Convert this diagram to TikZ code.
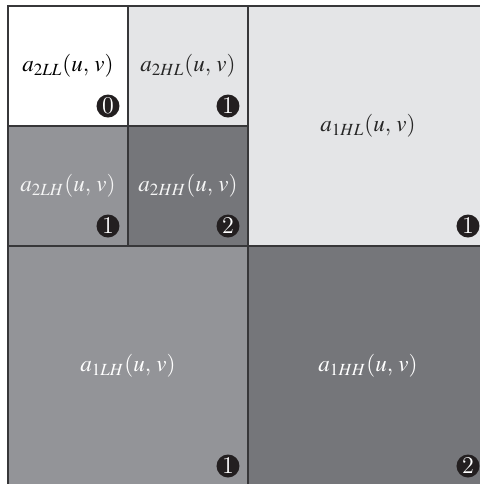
\documentclass[tikz,border=0pt]{standalone}
\usepackage{mathptmx}
\usepackage{xcolor}
\definecolor{bandlow}{RGB}{255,255,255}
\definecolor{bandlite}{RGB}{228,229,231}
\definecolor{bandmid}{RGB}{147,148,152}
\definecolor{banddark}{RGB}{117,118,122}
\definecolor{rulegray}{RGB}{55,55,57}
\definecolor{badgeblack}{RGB}{35,31,32}
\usetikzlibrary{positioning,calc}
\tikzset{
  cell/.style={draw=rulegray,line width=0.6pt,inner sep=0pt,outer sep=0pt,font=\fontsize{11.5}{14}\selectfont},
  small/.style={cell,minimum width=60pt,minimum height=60pt},
  big/.style={cell,minimum width=120pt,minimum height=120pt},
  badge/.style={circle,fill=badgeblack,text=white,inner sep=0pt,minimum size=11.5pt,font=\large},
}
\begin{document}
\begin{tikzpicture}[x=0.5pt,y=-0.5pt]
\useasboundingbox (0,0) rectangle (480,484);
\clip (0,0) rectangle (480,484);
\node[small,fill=bandlow,text=black] (c2LL) at (68,66) {$a_{2LL}(u,\,v)$};
\node[small,fill=bandlite,text=black!85,right=0pt of c2LL] (c2HL) {$a_{2HL}(u,\,v)$};
\node[small,fill=bandmid,text=white!96!black,below=0pt of c2LL] (c2LH) {$a_{2LH}(u,\,v)$};
\node[small,fill=banddark,text=white!96!black,right=0pt of c2LH] (c2HH) {$a_{2HH}(u,\,v)$};
\node[big,fill=bandlite,text=black!85] (c1HL) at (368,126) {$a_{1HL}(u,\,v)$};
\node[big,fill=bandmid,text=white,below=0pt of c2LH.south east,anchor=north] (c1LH) {$a_{1LH}(u,\,v)$};
\node[big,fill=banddark,text=white,right=0pt of c1LH] (c1HH) {$a_{1HH}(u,\,v)$};
% level badges in the lower right corners
\node[badge] (b2LL) at ($(c2LL.south east)+(-20,-20)$) {0};
\node[badge] (b2HL) at ($(c2HL.south east)+(-20,-20)$) {1};
\node[badge] (b2LH) at ($(c2LH.south east)+(-20,-20)$) {1};
\node[badge] (b2HH) at ($(c2HH.south east)+(-20,-20)$) {2};
\node[badge] (b1HL) at ($(c1HL.south east)+(-20,-20)$) {1};
\node[badge] (b1LH) at ($(c1LH.south east)+(-20,-20)$) {1};
\node[badge] (b1HH) at ($(c1HH.south east)+(-20,-20)$) {2};
\end{tikzpicture}
\end{document}
